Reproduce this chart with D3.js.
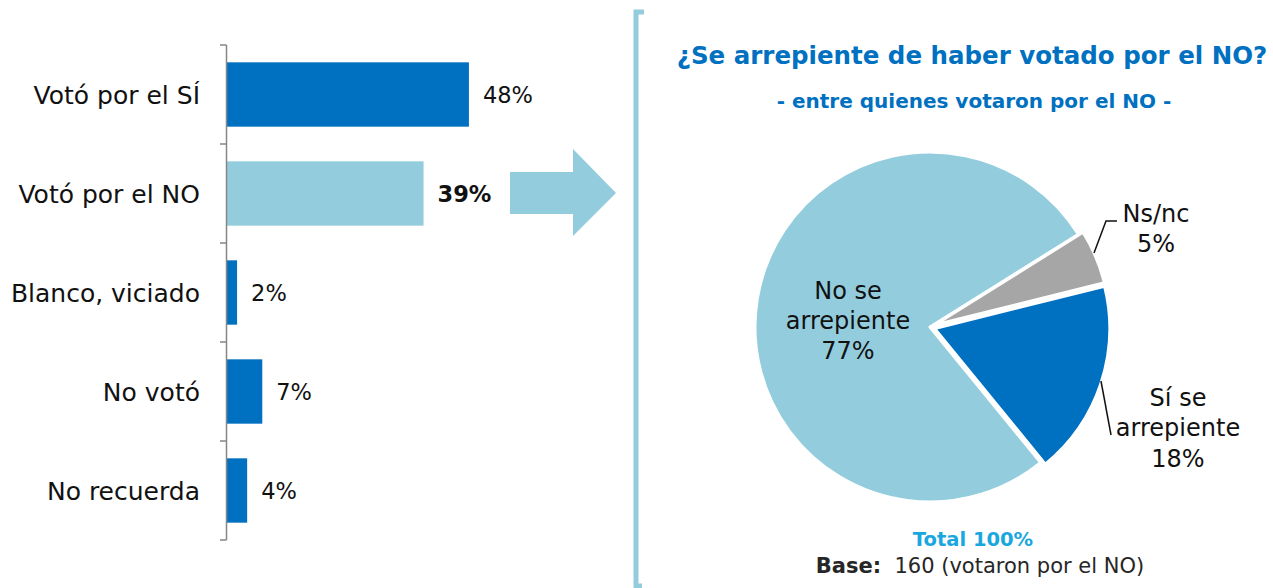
<!DOCTYPE html>
<html>
<head>
<meta charset="utf-8">
<script src="https://cdn.jsdelivr.net/npm/d3@7"></script>
<style>
  body { margin: 0; background: #fff; }
  svg { font-family: "DejaVu Sans", "Noto Sans", sans-serif; }
</style>
</head>
<body>
<svg id="chart" width="1273" height="588"></svg>
<script>
// bar chart data
var voteLabels = ["Votó por el SÍ", "Votó por el NO", "Blanco, viciado", "No votó", "No recuerda"];
var voteValues = [48, 39, 2, 7, 4];

// pie data (order = clockwise from the start angle)
var regretLabels = [["Sí se", "arrepiente"], ["No se", "arrepiente"], ["Ns/nc"]];
var regretValues = [18, 77, 5];

var darkBlue = "#0070C0",
    lightBlue = "#93CDDD",
    grey = "#A6A6A6";

var svg = d3.select("#chart");

// ---- left: horizontal bars
var y = d3.scaleBand()
          .domain(voteLabels)
          .range([45, 540])
          .paddingInner(0.35)
          .paddingOuter(0.175);

var x = d3.scaleLinear()
          .domain([0, 50])
          .range([227, 479]);

var bars = svg.append("g");

bars.selectAll("rect")
    .data(voteValues)
  .enter()
  .append("rect")
    .attr("x", x(0))
    .attr("y", (d, i) => y(voteLabels[i]))
    .attr("width", d => x(d) - x(0))
    .attr("height", y.bandwidth())
    .attr("fill", (d, i) => i === 1 ? lightBlue : darkBlue);

bars.selectAll(".val")
    .data(voteValues)
  .enter()
  .append("text")
    .classed("val", true)
    .attr("x", d => x(d) + 14)
    .attr("y", (d, i) => y(voteLabels[i]) + y.bandwidth() / 2)
    .attr("dy", "0.36em")
    .attr("font-size", 22.5)
    .attr("font-weight", (d, i) => i === 1 ? "bold" : "normal")
    .attr("fill", "#111")
    .text(d => d + "%");

bars.selectAll(".cat")
    .data(voteLabels)
  .enter()
  .append("text")
    .classed("cat", true)
    .attr("x", 200)
    .attr("y", d => y(d) + y.bandwidth() / 2)
    .attr("dy", "0.36em")
    .attr("font-size", 25)
    .attr("fill", "#111")
    .style("text-anchor", "end")
    .text(d => d);

// axis line with ticks at band edges
var edges = voteLabels.map(d => y(d) - y.step() * y.paddingInner() / 2);
edges.push(540);
edges[0] = 45;
bars.append("line")
    .attr("x1", 226.5).attr("x2", 226.5)
    .attr("y1", 45).attr("y2", 540)
    .attr("stroke", "#868686").attr("stroke-width", 1.5);
bars.selectAll(".tick")
    .data(edges)
  .enter()
  .append("line")
    .attr("x1", 220).attr("x2", 226.5)
    .attr("y1", d => d).attr("y2", d => d)
    .attr("stroke", "#868686").attr("stroke-width", 1.5);

// arrow
svg.append("path")
    .attr("d", "M510,172 L573,172 L573,149 L616,193 L573,236 L573,214 L510,214 Z")
    .attr("fill", lightBlue);

// bracket
svg.append("path")
    .attr("d", "M644,12 L636,12 L636,586 L642,586")
    .attr("fill", "none")
    .attr("stroke", lightBlue)
    .attr("stroke-width", 5);

// ---- right: pie
svg.append("text")
    .attr("x", 972).attr("y", 64)
    .attr("font-size", 24.5).attr("font-weight", "bold")
    .attr("fill", darkBlue)
    .style("text-anchor", "middle")
    .text("¿Se arrepiente de haber votado por el NO?");

svg.append("text")
    .attr("x", 974).attr("y", 108)
    .attr("font-size", 20).attr("font-weight", "bold")
    .attr("fill", darkBlue)
    .style("text-anchor", "middle")
    .text("- entre quienes votaron por el NO -");

var cx = 930, cy = 327, r = 175;
var explode = [5, 0, 5];

var pie = d3.pie()
            .sort(null)
            .startAngle(76 * Math.PI / 180)
            .endAngle(76 * Math.PI / 180 + 2 * Math.PI);

var arc = d3.arc().innerRadius(0).outerRadius(r);
var arcs = pie(regretValues);

var pieG = svg.append("g")
    .attr("transform", "translate(" + cx + "," + cy + ")");

pieG.selectAll("path")
    .data(arcs)
  .enter()
  .append("path")
    .attr("d", arc)
    .attr("transform", (d, i) => {
      var a = (d.startAngle + d.endAngle) / 2;
      return "translate(" + (Math.sin(a) * explode[i]) + "," + (-Math.cos(a) * explode[i]) + ")";
    })
    .attr("fill", (d, i) => [darkBlue, lightBlue, grey][i])
    .attr("stroke", "#fff")
    .attr("stroke-width", 3)
    .attr("stroke-linejoin", "round");

// pie labels
var labelPos = [[1178, 397], [848, 290], [1156, 213]];
var lineH = [30.5, 30, 30];

arcs.forEach((d, i) => {
  var lines = regretLabels[i].concat([regretValues[i] + "%"]);
  var t = svg.append("text")
      .attr("font-size", 24)
      .attr("fill", "#111")
      .style("text-anchor", "middle");
  lines.forEach((s, k) => {
    t.append("tspan")
      .attr("x", labelPos[i][0])
      .attr("y", labelPos[i][1] + k * lineH[i])
      .attr("dy", "0.36em")
      .text(s);
  });
});

// leader lines
svg.append("path")
    .attr("d", "M1094,253 L1106,221 L1117,221")
    .attr("fill", "none").attr("stroke", "#111").attr("stroke-width", 1.5);
svg.append("path")
    .attr("d", "M1101,381 L1111,435")
    .attr("fill", "none").attr("stroke", "#111").attr("stroke-width", 1.5);

// footer
svg.append("text")
    .attr("x", 973).attr("y", 546)
    .attr("font-size", 19.5).attr("font-weight", "bold")
    .attr("fill", "#1AA7DF")
    .style("text-anchor", "middle")
    .text("Total 100%");

var base = svg.append("text")
    .attr("x", 980).attr("y", 573)
    .attr("font-size", 21)
    .attr("fill", "#262626")
    .style("text-anchor", "middle");
base.append("tspan").attr("font-weight", "bold").text("Base:");
base.append("tspan").text("\u00a0 160 (votaron por el NO)");
</script>
</body>
</html>
